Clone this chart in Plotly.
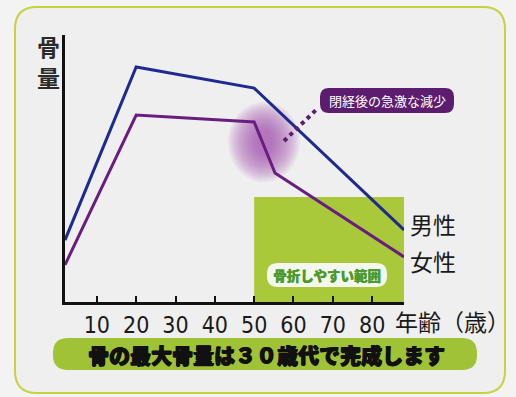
import plotly.graph_objects as go

# ---- data ----
male_age = [1.9, 20, 50, 88.1]
male_bone = [23.2, 88.0, 80.1, 27.0]
female_age = [1.9, 20, 50, 55.3, 88.1]
female_bone = [13.9, 70.0, 67.4, 48.3, 16.9]
tick_vals = [10, 20, 30, 40, 50, 60, 70, 80]
tick_text = ["10", "20", "30", "40", "50", "60", "70", "80"]
fracture_zone = [50, 88.1]          # age range, easy-to-fracture zone
fracture_zone_top = 39.3
series_names = ["男性", "女性"]

W, H = 516, 397
L, R, T, B = 65, 404, 35, 302


def px(x):
    return (x - L) / (R - L)


def py(y):
    return (B - y) / (B - T)


def rrect(x0, y0, x1, y1, r):
    def P(x, y):
        return f"{px(x):.5f},{py(y):.5f}"
    return (f"M {P(x0 + r, y0)} L {P(x1 - r, y0)} Q {P(x1, y0)} {P(x1, y0 + r)} "
            f"L {P(x1, y1 - r)} Q {P(x1, y1)} {P(x1 - r, y1)} "
            f"L {P(x0 + r, y1)} Q {P(x0, y1)} {P(x0, y1 - r)} "
            f"L {P(x0, y0 + r)} Q {P(x0, y0)} {P(x0 + r, y0)} Z")


fig = go.Figure()
fig.add_trace(go.Scatter(x=male_age, y=male_bone, mode="lines",
                         line=dict(color="#1d2a8f", width=3), name=series_names[0],
                         hoverinfo="skip"))
fig.add_trace(go.Scatter(x=female_age, y=female_bone, mode="lines",
                         line=dict(color="#6a1d80", width=3), name=series_names[1],
                         hoverinfo="skip"))

shapes = []
# outer frame
shapes.append(dict(type="path", xref="paper", yref="paper", path=rrect(15, 7, 505, 393, 22),
                   line=dict(color="#c6d23e", width=2), fillcolor="#efefef", layer="below"))
# fracture zone
shapes.append(dict(type="rect", xref="x", yref="y", x0=fracture_zone[0], x1=fracture_zone[1],
                   y0=0, y1=fracture_zone_top, fillcolor="#a9c83a", line=dict(width=0), layer="below"))
# purple blob (soft, diffuse)
cx, cy = 264, 142
for k in range(15):
    rx = 36 - k * 2.0
    ry = 40 - k * 2.0
    shapes.append(dict(type="circle", xref="paper", yref="paper",
                       x0=px(cx - rx), x1=px(cx + rx), y0=py(cy + ry), y1=py(cy - ry),
                       fillcolor="rgba(160,85,178,0.085)", line=dict(width=0), layer="below"))
# dotted leader
shapes.append(dict(type="line", xref="paper", yref="paper", x0=px(284), y0=py(141), x1=px(316), y1=py(110),
                   line=dict(color="#5b1e6c", width=4, dash="dot")))
# purple label box
shapes.append(dict(type="path", xref="paper", yref="paper", path=rrect(320, 88, 454, 113, 9),
                   fillcolor="#5c1d6e", line=dict(width=0)))
# white label box in fracture zone
shapes.append(dict(type="path", xref="paper", yref="paper", path=rrect(267, 263, 387, 287, 11),
                   fillcolor="#f4f7ee", line=dict(width=0)))
# bottom banner
shapes.append(dict(type="path", xref="paper", yref="paper", path=rrect(53, 338, 477, 370, 15),
                   fillcolor="#9fc236", line=dict(width=0)))

ann = []
def text(xp, ypix, s, size, color="#222", family="Noto Sans CJK JP", weight="normal",
         xanchor="center", shadow="none"):
    ann.append(dict(xref="paper", yref="paper", x=px(xp), y=py(ypix), text=s, showarrow=False,
                    xanchor=xanchor, yanchor="middle", borderpad=0,
                    font=dict(size=size, color=color, family=family, weight=weight, shadow=shadow)))

text(48, 46, "骨", 23, color="#2a2a2a", weight="bold")
text(48, 77, "量", 23, color="#2a2a2a", weight="bold")
text(433, 224, series_names[0], 23, color="#1a1a1a")
text(433, 261, series_names[1], 23, color="#1a1a1a")
text(387, 100, "閉経後の急激な減少", 13, color="#ffffff")
text(327, 275, "骨折しやすい範囲", 13.5, color="#4b9a2c", weight=900,
     shadow="0.4px 0 0 #4b9a2c")
text(394, 321, "年齢（歳）", 23, color="#1a1a1a", xanchor="left")
text(266, 354, "骨の最大骨量は３０歳代で完成します", 21, color="#111", weight=900,
     shadow="0.7px 0 0 #111, -0.5px 0 0 #111, 0 0.5px 0 #111")

fig.update_layout(
    width=W, height=H, margin=dict(l=L, r=W - R, t=T, b=H - B),
    paper_bgcolor="#f3f3f3", plot_bgcolor="rgba(0,0,0,0)",
    showlegend=False, shapes=shapes, annotations=ann,
    xaxis=dict(range=[1.9, 88.1], showgrid=False, zeroline=False, showline=True,
               linecolor="#111", linewidth=3, ticks="inside", ticklen=6, tickwidth=2,
               tickcolor="#111", tickvals=tick_vals, ticktext=tick_text,
               tickfont=dict(family="Liberation Sans Narrow, DejaVu Sans Condensed, Roboto, sans-serif",
                             size=23, color="#1a1a1a"),
               ticklabelstandoff=0, fixedrange=True),
    yaxis=dict(range=[0, 100], showgrid=False, zeroline=False, showline=True,
               linecolor="#111", linewidth=3, showticklabels=False, ticks="", fixedrange=True),
)

fig.write_html("out.html")
